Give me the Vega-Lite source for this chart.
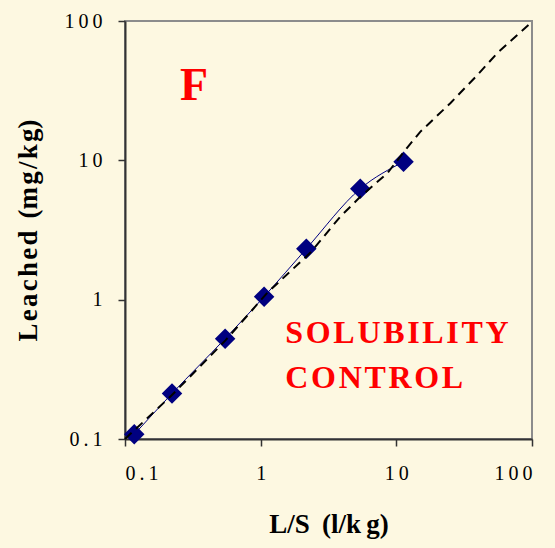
{
  "$schema": "https://vega.github.io/schema/vega-lite/v6.json",
  "width": 407,
  "height": 418,
  "autosize": "none",
  "padding": {"left": 125, "top": 21, "right": 23, "bottom": 109},
  "background": "#FDF8E1",
  "config": {
    "view": {"fill": "#FDF8E1", "stroke": "#8C8C8C", "strokeWidth": 2},
    "font": "Liberation Serif",
    "text": {"font": "Liberation Serif"}
  },
  "datasets": {
    "measured": [
      {"ls": 0.117, "leached": 0.108},
      {"ls": 0.222, "leached": 0.212},
      {"ls": 0.547, "leached": 0.525},
      {"ls": 1.06, "leached": 1.05},
      {"ls": 2.17, "leached": 2.32},
      {"ls": 5.42, "leached": 6.25},
      {"ls": 11.3, "leached": 9.75}
    ],
    "model": [
      {"ls": 0.1, "leached": 0.1},
      {"ls": 0.22, "leached": 0.205},
      {"ls": 0.55, "leached": 0.51},
      {"ls": 1.12, "leached": 1.12},
      {"ls": 2.32, "leached": 2.17},
      {"ls": 3.86, "leached": 3.94},
      {"ls": 5.42, "leached": 5.47},
      {"ls": 8.6, "leached": 8.1},
      {"ls": 12.0, "leached": 12.3},
      {"ls": 15.0, "leached": 16.0},
      {"ls": 25.1, "leached": 25.8},
      {"ls": 39.6, "leached": 41.0},
      {"ls": 55.6, "leached": 59.0},
      {"ls": 98, "leached": 97}
    ],
    "panel": [{"ls": 0.323, "leached": 27.2, "text": "F"}],
    "note": [
      {"ls": 1.52, "leached": 0.492, "text": "S\u200aO\u200aL\u200aU\u200aB\u200aI\u200aL\u200aI\u200aT\u200aY"},
      {"ls": 1.52, "leached": 0.234, "text": "C\u200aO\u200aN\u200aT\u200aR\u200aO\u200aL"}
    ]
  },
  "encoding": {
    "x": {
      "field": "ls",
      "type": "quantitative",
      "scale": {"type": "log", "domain": [0.1, 100], "nice": false},
      "axis": {
        "title": "L/S\u2009 (l/k\u2009g)",
        "values": [0.1, 1, 10, 100],
        "grid": false,
        "domainColor": "#333333",
        "domainWidth": 2,
        "tickColor": "#333333",
        "tickWidth": 1.5,
        "tickSize": 7,
        "labelFont": "Liberation Serif",
        "labelFontSize": 20,
        "labelColor": "#000000",
        "labelPadding": 17,
        "labelExpr": "datum.value >= 100 ? '1\u20090\u20090' : datum.value >= 10 ? '1\u20090' : datum.value >= 1 ? '1' : '0\u2009.\u20091'",
        "titleFont": "Liberation Serif",
        "titleFontSize": 27,
        "titleFontWeight": "bold",
        "titleColor": "#000000",
        "titlePadding": 28
      }
    },
    "y": {
      "field": "leached",
      "type": "quantitative",
      "scale": {"type": "log", "domain": [0.1, 100], "nice": false},
      "axis": {
        "title": "L\u200ae\u200aa\u200ac\u200ah\u200ae\u200ad\u2009 (m\u200ag\u200a/\u200ak\u200ag)",
        "values": [0.1, 1, 10, 100],
        "grid": false,
        "domainColor": "#333333",
        "domainWidth": 2,
        "tickColor": "#333333",
        "tickWidth": 1.5,
        "tickSize": 7,
        "labelFont": "Liberation Serif",
        "labelFontSize": 20,
        "labelColor": "#000000",
        "labelPadding": 16,
        "labelExpr": "datum.value >= 100 ? '1\u20090\u20090' : datum.value >= 10 ? '1\u20090' : datum.value >= 1 ? '1' : '0\u2009.\u20091'",
        "titleFont": "Liberation Serif",
        "titleFontSize": 27,
        "titleFontWeight": "bold",
        "titleColor": "#000000",
        "titlePadding": 21
      }
    }
  },
  "layer": [
    {
      "data": {"name": "measured"},
      "mark": {"type": "line", "color": "#000080", "strokeWidth": 1, "interpolate": "monotone"}
    },
    {
      "data": {"name": "measured"},
      "mark": {"type": "point", "shape": "diamond", "filled": true, "size": 420, "color": "#000080", "opacity": 1}
    },
    {
      "data": {"name": "model"},
      "mark": {"type": "line", "color": "#000000", "strokeWidth": 2, "strokeDash": [9, 6]}
    },
    {
      "data": {"name": "panel"},
      "mark": {"type": "text", "font": "Liberation Serif", "fontSize": 46, "fontWeight": "bold", "color": "#FF0000", "align": "center", "baseline": "alphabetic"},
      "encoding": {"text": {"field": "text"}}
    },
    {
      "data": {"name": "note"},
      "mark": {"type": "text", "font": "Liberation Serif", "fontSize": 32, "fontWeight": "bold", "color": "#FF0000", "align": "left", "baseline": "alphabetic"},
      "encoding": {"text": {"field": "text"}}
    }
  ]
}
